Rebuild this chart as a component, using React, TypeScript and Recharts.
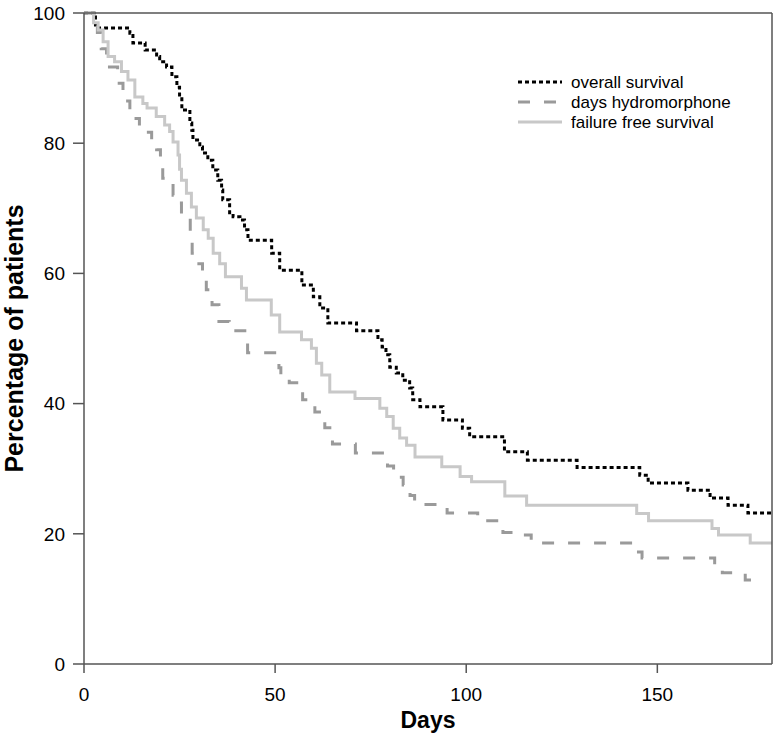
import React from 'react';
import { LineChart, Line, XAxis, YAxis, ReferenceLine, Legend } from 'recharts';

// Kaplan-Meier style step curves: day at which each new level starts, and the level (%)
const overallDays = [0, 3, 12, 12.8, 16, 19, 19.8, 21.6, 23, 24.3, 25, 25.6, 27.7, 28.2, 28.5, 30.3, 31, 32.4, 33.7, 35, 36, 36.3, 38.1, 39, 40.8, 42, 42.9, 49.1, 51.2, 57, 60, 61.7, 63.8, 71.3, 76.9, 78, 79, 80, 81.7, 83.4, 85.2, 86, 87.9, 93.9, 99, 100.9, 110, 116, 129, 145.4, 147.6, 158, 163.8, 168.5, 173.7, 180];
const overallPct = [100, 97.7, 96.9, 95.4, 94.3, 93.3, 92.5, 91.7, 90.2, 88.6, 87.1, 85.1, 83.1, 82, 80.5, 79.4, 78.5, 77.4, 75.9, 74.3, 72.8, 71.3, 69.3, 68.7, 68.2, 66.7, 65.1, 63.1, 60.5, 58.2, 56.4, 54.7, 52.4, 51.2, 49.8, 48.7, 47.5, 45.6, 44.7, 43.6, 42.4, 40.6, 39.5, 37.5, 36.2, 34.9, 32.6, 31.3, 30.2, 29.0, 27.8, 26.7, 25.5, 24.4, 23.2, 23.2];

const hydroDays = [0, 3.5, 4.5, 5.9, 8.8, 10.2, 12, 14.5, 16.3, 17.7, 19, 20, 20.6, 23.3, 24.3, 25.5, 27.8, 28.3, 29.5, 31, 32, 33.5, 35.3, 38, 42.8, 51, 51.5, 53.7, 57.2, 60.4, 63, 65, 71, 79.4, 81, 83.5, 85.3, 86.5, 95, 103, 109.6, 113, 117, 143.5, 146, 165, 167, 173, 177];
const hydroPct = [100, 97, 94.5, 91.7, 89.2, 86.5, 83.8, 82.5, 81.7, 80.2, 79, 77.6, 74.6, 72, 70.8, 68.8, 66.4, 63.1, 61.5, 59.5, 57.5, 55.2, 52.6, 51.2, 47.8, 45.5, 44.1, 43.2, 40.6, 38.7, 36.3, 33.8, 32.4, 30.4, 28.7, 27.5, 25.9, 24.5, 23.2, 22, 20.2, 19.8, 18.6, 17.2, 16.3, 14.4, 14, 12.9, 12.9];

const failureDays = [0, 2.5, 3.7, 5, 6.3, 8, 9.8, 11.5, 13.3, 15.4, 16.5, 18.9, 21.1, 22.4, 23.3, 24.6, 25, 25.5, 26.8, 28.1, 29.4, 31.2, 32.5, 33.8, 35.5, 37, 41.2, 42.5, 49, 51.2, 56.9, 59.5, 60.8, 62.2, 64.3, 70.9, 77.4, 79.2, 80.9, 82.6, 84.4, 86.6, 93.6, 98.4, 101.4, 110.1, 115.8, 144.6, 147.7, 164.3, 166, 174.3, 180];
const failurePct = [100, 98.5, 97.4, 95.6, 93.3, 92.5, 91, 89.7, 87.1, 86.1, 85.4, 84.1, 82.8, 81.8, 80.2, 78.2, 76, 74.3, 72.3, 70.2, 68.5, 66.7, 65.4, 63.1, 61.5, 59.5, 57.7, 55.9, 53.6, 51, 49.8, 48.5, 46.2, 44.4, 41.8, 40.8, 39.3, 38, 36.2, 34.7, 33.6, 31.8, 30.3, 28.8, 28, 25.8, 24.4, 23.1, 22, 20.8, 19.8, 18.6, 18.6];

const seriesNames = ['overall survival', 'days hydromorphone', 'failure free survival'];
const xTicks = [0, 50, 100, 150];
const yTicks = [0, 20, 40, 60, 80, 100];

const toRows = (days: number[], pct: number[]) => days.map((d, i) => ({ day: d, value: pct[i] }));

const series = [
  { name: seriesNames[0], data: toRows(overallDays, overallPct), stroke: '#000000', dash: '4 3' },
  { name: seriesNames[1], data: toRows(hydroDays, hydroPct), stroke: '#9a9a9a', dash: '12 14' },
  { name: seriesNames[2], data: toRows(failureDays, failurePct), stroke: '#c8c8c8', dash: undefined },
];

const FONT = '"Liberation Sans", Arial, Helvetica, sans-serif';
const AXIS = '#555555';

const LegendBox = () => (
  <svg width={260} height={64}>
    {series.map((s, i) => (
      <g key={s.name}>
        <line x1={3} x2={47} y1={12 + i * 20} y2={12 + i * 20} stroke={s.stroke} strokeWidth={3} strokeDasharray={s.dash} />
        <text x={56} y={12 + i * 20} dy="0.35em" fontSize={17} fill="#000" fontFamily={FONT}>{s.name}</text>
      </g>
    ))}
  </svg>
);

const App: React.FC = () => {
  return (
    <div style={{ position: 'absolute', left: 0, top: 0, width: 776, height: 737, background: '#fff', fontFamily: FONT }}>
      <LineChart width={776} height={737} margin={{ top: 13, right: 4, bottom: 0, left: 0 }}>
        <XAxis
          type="number"
          dataKey="day"
          domain={[0, 180]}
          ticks={xTicks}
          allowDataOverflow
          height={73}
          tickSize={9}
          tickMargin={15}
          stroke={AXIS}
          strokeWidth={1.5}
          tick={{ fill: '#000', fontSize: 19, fontFamily: FONT }}
          label={{
            content: (p: any) => (
              <text x={p.viewBox.x + p.viewBox.width / 2} y={p.viewBox.y + 64} textAnchor="middle" fontSize={23} fontWeight="bold" fill="#000" fontFamily={FONT}>Days</text>
            ),
          }}
        />
        <YAxis
          type="number"
          dataKey="value"
          domain={[0, 100]}
          ticks={yTicks}
          width={84}
          tickSize={11}
          tickMargin={8}
          stroke={AXIS}
          strokeWidth={1.5}
          tick={{ fill: '#000', fontSize: 19, fontFamily: FONT }}
          label={{
            content: (p: any) => {
              const cx = p.viewBox.x + 14;
              const cy = p.viewBox.y + p.viewBox.height / 2;
              return (
                <text x={cx} y={cy} transform={`rotate(-90 ${cx} ${cy})`} textAnchor="middle" dominantBaseline="central" fontSize={25} fontWeight="bold" fill="#000" fontFamily={FONT}>Percentage of patients</text>
              );
            },
          }}
        />
        {series.map((s) => (
          <Line
            key={s.name}
            data={s.data}
            dataKey="value"
            name={s.name}
            type="stepAfter"
            stroke={s.stroke}
            strokeWidth={3}
            strokeDasharray={s.dash}
            strokeLinecap="butt"
            dot={false}
            activeDot={false}
            isAnimationActive={false}
          />
        ))}
        <ReferenceLine y={100} stroke={AXIS} strokeWidth={1.5} ifOverflow="extendDomain" />
        <ReferenceLine x={180} stroke={AXIS} strokeWidth={1.5} ifOverflow="extendDomain" />
        <Legend
          layout="vertical"
          align="center"
          verticalAlign="middle"
          wrapperStyle={{ position: 'absolute', left: 515, top: 70, width: 260 }}
          content={() => <LegendBox />}
        />
      </LineChart>
    </div>
  );
};

export default App;
